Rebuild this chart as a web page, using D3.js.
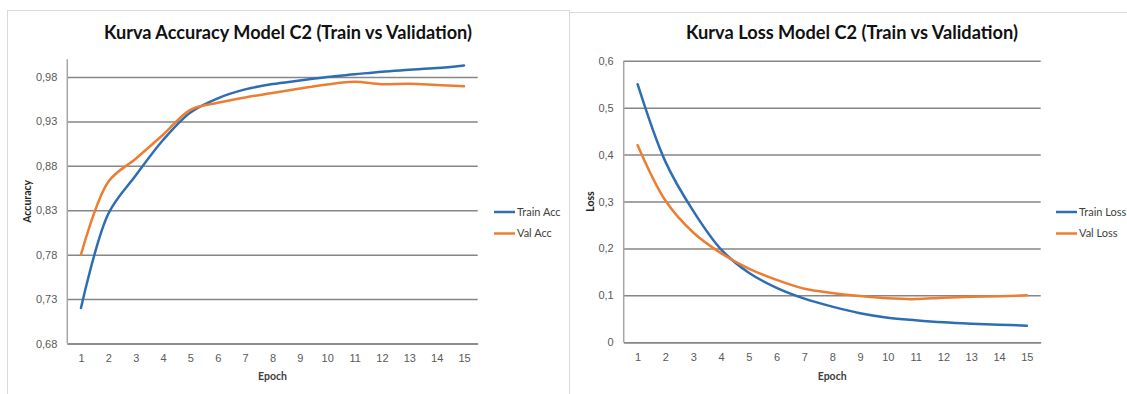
<!DOCTYPE html>
<html>
<head>
<meta charset="utf-8">
<script src="https://cdn.jsdelivr.net/npm/d3@7"></script>
<style>
  html, body { margin: 0; padding: 0; background: #fff; }
  svg { display: block; font-family: Lato, "Open Sans", "DejaVu Sans", sans-serif; }
</style>
</head>
<body>
<svg id="chart" width="1127" height="394"></svg>
<script>
// Epochs shared by both panels
const epochs = [1, 2, 3, 4, 5, 6, 7, 8, 9, 10, 11, 12, 13, 14, 15];

// Accuracy per epoch
const trainAcc = [0.720, 0.826, 0.869, 0.909, 0.940, 0.956, 0.966, 0.972, 0.976, 0.980, 0.983, 0.986, 0.988, 0.990, 0.993];
const valAcc   = [0.780, 0.862, 0.888, 0.915, 0.943, 0.951, 0.957, 0.962, 0.967, 0.9715, 0.9745, 0.9718, 0.9725, 0.971, 0.9695];

// Loss per epoch
const trainLoss = [0.550, 0.385, 0.280, 0.198, 0.148, 0.116, 0.093, 0.076, 0.062, 0.0525, 0.047, 0.0426, 0.0397, 0.0376, 0.0355];
const valLoss   = [0.420, 0.302, 0.234, 0.190, 0.157, 0.133, 0.114, 0.105, 0.0986, 0.0936, 0.092, 0.095, 0.097, 0.098, 0.100];

// Axis ticks
const accTicks = [0.68, 0.73, 0.78, 0.83, 0.88, 0.93, 0.98];
const lossTicks = [0, 0.1, 0.2, 0.3, 0.4, 0.5, 0.6];

// Titles and labels
const accTitle = "Kurva Accuracy Model C2 (Train vs Validation)";
const lossTitle = "Kurva Loss Model C2 (Train vs Validation)";
const accLegend = ["Train Acc", "Val Acc"];
const lossLegend = ["Train Loss", "Val Loss"];

const BLUE = "#2e6db4";
const ORANGE = "#ed7d31";
const GRID = "#868686";

const commaLocale = d3.formatLocale({ decimal: ",", thousands: ".", grouping: [3], currency: ["", ""] });

const svg = d3.select("#chart");

function panel(cfg) {
  const g = svg.append("g");

  // chart frame
  g.append("rect")
    .attr("x", cfg.frame[0] + 0.5).attr("y", cfg.frame[1] + 0.5)
    .attr("width", cfg.frame[2]).attr("height", cfg.frame[3])
    .attr("fill", "#fff").attr("stroke", "#d9d9d9").attr("stroke-width", 1);

  const x = d3.scalePoint().domain(epochs).range([cfg.left, cfg.right]).padding(0.5);
  const y = d3.scaleLinear().domain(cfg.domain).range([cfg.bottom, cfg.top]);

  // horizontal gridlines
  const yAxis = d3.axisLeft(y).tickValues(cfg.ticks)
    .tickSize(-(cfg.right - cfg.left)).tickPadding(10)
    .tickFormat(cfg.fmt);
  const ya = g.append("g").attr("transform", `translate(${cfg.left},0)`).call(yAxis);
  ya.select(".domain").remove();
  ya.selectAll(".tick line").attr("stroke", GRID).attr("stroke-width", 1.5);
  ya.selectAll(".tick text").attr("fill", "#595959").attr("font-size", 11);

  // vertical axis line
  g.append("line")
    .attr("x1", cfg.left).attr("x2", cfg.left)
    .attr("y1", y(cfg.domain[0])).attr("y2", y(cfg.domain[1]))
    .attr("stroke", "#a6a6a6").attr("stroke-width", 1.5);

  // category axis
  const xAxis = d3.axisBottom(x).tickSize(0).tickPadding(11);
  const xa = g.append("g").attr("transform", `translate(0,${cfg.bottom})`).call(xAxis);
  xa.select(".domain").attr("stroke", GRID).attr("stroke-width", 1.5);
  xa.selectAll(".tick text").attr("fill", "#595959").attr("font-size", 11);

  // series lines
  const line = d3.line()
    .x((d, i) => x(epochs[i]))
    .y(d => y(d))
    .curve(d3.curveCatmullRom.alpha(0.5));
  g.append("path").datum(cfg.series[0]).attr("d", line)
    .attr("fill", "none").attr("stroke", BLUE).attr("stroke-width", 2.5).attr("stroke-linecap", "round");
  g.append("path").datum(cfg.series[1]).attr("d", line)
    .attr("fill", "none").attr("stroke", ORANGE).attr("stroke-width", 2.5).attr("stroke-linecap", "round");

  // title
  g.append("text")
    .attr("x", cfg.titleX).attr("y", 39)
    .attr("text-anchor", "middle")
    .attr("font-size", 19).attr("font-weight", 700).attr("fill", "#111")
    .attr("textLength", cfg.titleLen).attr("lengthAdjust", "spacingAndGlyphs")
    .text(cfg.title);

  // axis titles
  g.append("text")
    .attr("x", (cfg.left + cfg.right) / 2).attr("y", 380)
    .attr("text-anchor", "middle").attr("font-size", 10.5).attr("font-weight", 700).attr("fill", "#404040")
    .text("Epoch");
  g.append("text")
    .attr("transform", `translate(${cfg.yTitleX},${(cfg.top + cfg.bottom) / 2}) rotate(-90)`)
    .attr("text-anchor", "middle").attr("font-size", 10.5).attr("font-weight", 700).attr("fill", "#262626")
    .text(cfg.yTitle);

  // legend
  const lg = g.append("g").attr("transform", `translate(${cfg.legendX},212)`);
  cfg.legend.forEach((name, i) => {
    const row = lg.append("g").attr("transform", `translate(0,${i * 21.5})`);
    row.append("line").attr("x1", 0).attr("x2", 21).attr("y1", 0).attr("y2", 0)
      .attr("stroke", i === 0 ? BLUE : ORANGE).attr("stroke-width", 2.5);
    row.append("text").attr("x", 23).attr("y", 0).attr("dy", "0.35em")
      .attr("font-size", 11).attr("fill", "#404040").text(name);
  });
}

panel({
  frame: [7, 10, 562, 400],
  left: 67.3, right: 477.7, top: 59.2, bottom: 343.5,
  domain: [0.68, 1.0], ticks: accTicks,
  fmt: commaLocale.format(".2f"),
  series: [trainAcc, valAcc],
  title: accTitle, titleX: 288, titleLen: 368,
  yTitle: "Accuracy", yTitleX: 31,
  legend: accLegend, legendX: 494
});

panel({
  frame: [569, 12, 570, 400],
  left: 623.7, right: 1040.7, top: 60.7, bottom: 342.3,
  domain: [0, 0.6], ticks: lossTicks,
  fmt: v => v === 0 ? "0" : commaLocale.format(".1f")(v),
  series: [trainLoss, valLoss],
  title: lossTitle, titleX: 852, titleLen: 332,
  yTitle: "Loss", yTitleX: 594,
  legend: lossLegend, legendX: 1056
});
</script>
</body>
</html>
